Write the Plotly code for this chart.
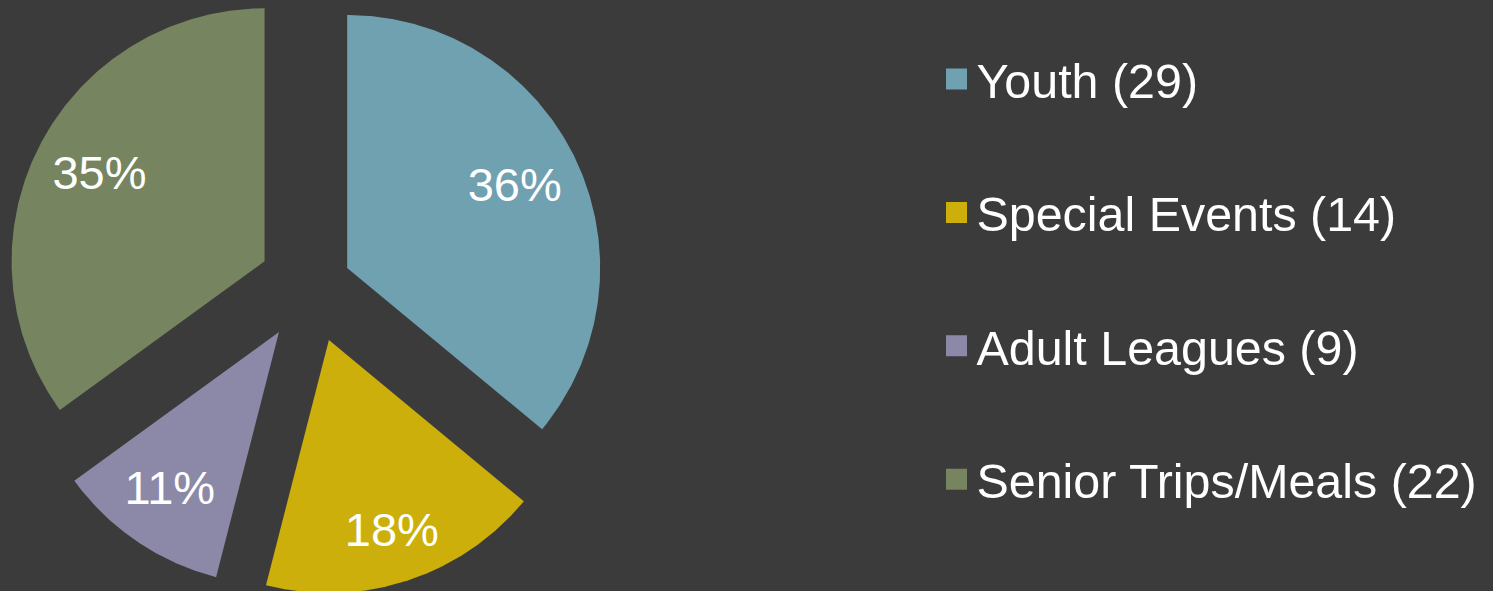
import numpy as np
import plotly.graph_objects as go

# ---- data ----
categories = ["Youth", "Special Events", "Adult Leagues", "Senior Trips/Meals"]
counts = [29, 14, 9, 22]
shares = [36, 18, 11, 35]          # percent shown on slices

# ---- style ----
colors = ["#6FA1B0", "#CCAF0B", "#8B89A7", "#768560"]
pulls = [0.158, 0.229, 0.225, 0.206]   # explode fraction of radius per slice
W, H = 1493, 591
CX, CY, R = 311, 285, 253              # pie centre / radius in px
FS = 47
LFS = 48.4
BG = "#3B3B3B"
FONT = "Liberation Sans, Arial, sans-serif"

fig = go.Figure()
total = float(sum(shares))
cum = 0.0
lab_x, lab_y, lab_t = [], [], []
for name, n, s, c, p in zip(categories, counts, shares, colors, pulls):
    a0 = cum / total * 2 * np.pi
    a1 = (cum + s) / total * 2 * np.pi
    cum += s
    am = (a0 + a1) / 2
    ox, oy = p * np.sin(am), p * np.cos(am)
    t = np.linspace(a0, a1, 240)
    xs = np.concatenate([[ox], ox + np.sin(t), [ox]])
    ys = np.concatenate([[oy], oy + np.cos(t), [oy]])
    fig.add_trace(go.Scatter(
        x=xs, y=ys, mode="lines", fill="toself", fillcolor=c,
        line=dict(width=0, color=c), showlegend=False,
        hoverinfo="text", text=f"{name} ({n}): {s}%",
    ))
    # label placement: inside the slice, box kept off the rim
    hw, hh = 0.98 * FS / R, 0.36 * FS / R
    sup = hw * abs(np.sin(am)) + hh * abs(np.cos(am))
    d = 1 - sup - 19.0 / R
    lab_x.append(ox + d * np.sin(am))
    lab_y.append(oy + d * np.cos(am))
    lab_t.append(f"{s}%")

fig.add_trace(go.Scatter(
    x=lab_x, y=lab_y, mode="text", text=lab_t, textposition="middle center",
    textfont=dict(size=FS, color="#FFFFFF", family=FONT),
    showlegend=False, hoverinfo="skip",
))

# legend entries
for name, n, c in zip(categories, counts, colors):
    fig.add_trace(go.Scatter(
        x=[None], y=[None], mode="markers", name=f"{name} ({n})",
        legendgroup=name,
        marker=dict(symbol="square", size=16, color=c, line=dict(color=c, width=5)),
    ))

fig.update_layout(
    width=W, height=H, autosize=False,
    margin=dict(l=0, r=0, t=0, b=0, pad=0),
    paper_bgcolor=BG, plot_bgcolor=BG,
    xaxis=dict(range=[-CX / R, (W - CX) / R], visible=False, fixedrange=True),
    yaxis=dict(range=[(CY - H) / R, CY / R], visible=False, fixedrange=True),
    showlegend=True,
    legend=dict(
        x=936.5 / W, xanchor="left", y=1 - 41 / H, yanchor="top",
        font=dict(size=LFS, color="#FFFFFF", family=FONT),
        bgcolor="rgba(0,0,0,0)", traceorder="grouped", tracegroupgap=67.5,
        itemclick=False, itemdoubleclick=False,
    ),
    hovermode="closest",
)

fig.write_html("out.html", config={"displayModeBar": False})
